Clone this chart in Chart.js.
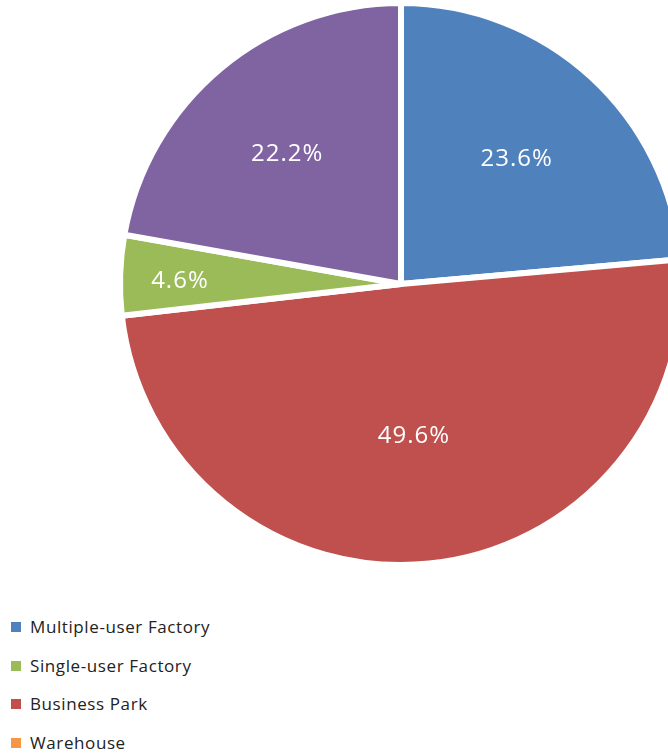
<!DOCTYPE html>
<html lang="en">
<head>
  <meta charset="UTF-8">
  <title>Industrial Space Pie</title>
  <script src="https://cdn.jsdelivr.net/npm/chart.js"></script>
  <style>
    body { margin: 0; overflow: hidden; background: #fff; font-family: "Open Sans", sans-serif; }
    #wrap { width: 802px; height: 568px; }
    #legend { list-style: none; margin: 0; padding: 0; position: absolute; left: 11px; top: 615px; }
    #legend li { height: 38.5px; display: flex; align-items: flex-start; font-size: 17px; letter-spacing: 0.6px; color: #222; }
    #legend span.box { width: 10px; height: 10px; margin-top: 7px; margin-right: 9px; flex: none; }
    #legend span.txt { line-height: 24px; }
  </style>
</head>
<body>
  <div id="wrap"><canvas id="myChart" width="802" height="568"></canvas></div>
  <ul id="legend"></ul>

  <script>
    // Categories in legend order
    var categories = ['Multiple-user Factory', 'Single-user Factory', 'Business Park', 'Warehouse', 'Others'];
    var shares = [23.6, 4.6, 49.6, 0, 22.2];
    var colors = ['#4F81BD', '#9BBB59', '#C0504D', '#F79646', '#8064A2'];
    // order the slices are drawn clockwise from 12 o'clock
    var sliceOrder = [0, 2, 1, 3, 4];

    var labels = sliceOrder.map(function (i) { return categories[i]; });
    var values = sliceOrder.map(function (i) { return shares[i]; });
    var fills = sliceOrder.map(function (i) { return colors[i]; });

    // Percent labels inside the slices
    var sliceLabels = {
      id: 'sliceLabels',
      afterDatasetsDraw: function (chart) {
        var ctx = chart.ctx;
        var meta = chart.getDatasetMeta(0);
        ctx.save();
        ctx.fillStyle = '#fff';
        ctx.font = '24px "Open Sans", sans-serif';
        ctx.letterSpacing = '1px';
        ctx.textAlign = 'center';
        ctx.textBaseline = 'middle';
        meta.data.forEach(function (arc, i) {
          var v = values[i];
          if (!v) return;
          var p = arc.getProps(['x', 'y', 'startAngle', 'endAngle', 'outerRadius']);
          var mid = (p.startAngle + p.endAngle) / 2;
          var frac = v < 10 ? 0.78 : (v > 40 ? 0.53 : 0.62);
          var r = p.outerRadius * frac;
          ctx.fillText(v.toFixed(1) + '%', p.x + Math.cos(mid) * r - 2, p.y + Math.sin(mid) * r + 4);
        });
        ctx.restore();
      }
    };

    var ctx = document.getElementById('myChart').getContext('2d');
    var myChart = new Chart(ctx, {
      type: 'pie',
      data: {
        labels: labels,
        datasets: [{
          data: values,
          backgroundColor: fills,
          borderColor: '#fff',
          borderWidth: 6
        }]
      },
      options: {
        responsive: false,
        animation: false,
        layout: { padding: 0 },
        plugins: {
          legend: { display: false },
          tooltip: { enabled: false }
        }
      },
      plugins: [sliceLabels]
    });

    // Legend list in category order
    var legend = document.getElementById('legend');
    categories.forEach(function (name, i) {
      var li = document.createElement('li');
      var box = document.createElement('span');
      box.className = 'box';
      box.style.background = colors[i];
      var txt = document.createElement('span');
      txt.className = 'txt';
      txt.textContent = name;
      li.appendChild(box);
      li.appendChild(txt);
      legend.appendChild(li);
    });
  </script>
</body>
</html>
